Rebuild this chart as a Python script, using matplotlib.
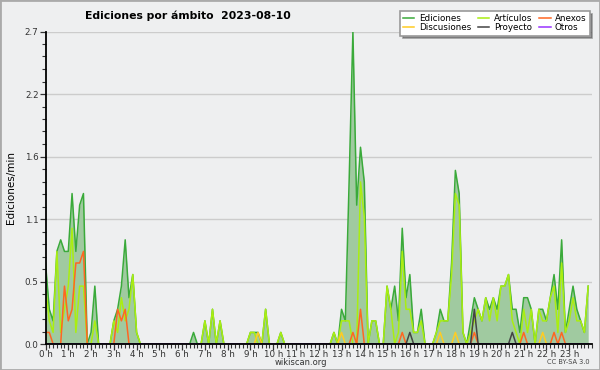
import numpy as np
import matplotlib.pyplot as plt
from matplotlib.ticker import FixedLocator, MultipleLocator
from matplotlib.patches import Rectangle

# edits per minute, 10-minute steps, one row per hour (00:00 .. 23:50)
ediciones = [
    [0.7, 0.3, 0.2, 0.8, 0.9, 0.8],
    [0.8, 1.3, 0.8, 1.2, 1.3, 0.0],
    [0.1, 0.5, 0.0, 0.0, 0.0, 0.0],
    [0.2, 0.3, 0.5, 0.9, 0.4, 0.6],
    [0.1, 0.0, 0.0, 0.0, 0.0, 0.0],
    [0.0, 0.0, 0.0, 0.0, 0.0, 0.0],
    [0.0, 0.0, 0.0, 0.1, 0.0, 0.0],
    [0.2, 0.0, 0.3, 0.0, 0.2, 0.0],
    [0.0, 0.0, 0.0, 0.0, 0.0, 0.0],
    [0.1, 0.1, 0.1, 0.0, 0.3, 0.0],
    [0.0, 0.0, 0.1, 0.0, 0.0, 0.0],
    [0.0, 0.0, 0.0, 0.0, 0.0, 0.0],
    [0.0, 0.0, 0.0, 0.0, 0.1, 0.0],
    [0.3, 0.2, 1.4, 2.7, 1.2, 1.7],
    [1.4, 0.0, 0.2, 0.2, 0.0, 0.0],
    [0.5, 0.3, 0.5, 0.2, 1.0, 0.4],
    [0.6, 0.1, 0.1, 0.3, 0.0, 0.0],
    [0.0, 0.1, 0.3, 0.2, 0.2, 0.7],
    [1.5, 1.3, 0.1, 0.0, 0.2, 0.4],
    [0.3, 0.2, 0.4, 0.3, 0.4, 0.3],
    [0.5, 0.5, 0.6, 0.3, 0.3, 0.1],
    [0.4, 0.4, 0.3, 0.0, 0.3, 0.3],
    [0.2, 0.4, 0.6, 0.3, 0.9, 0.1],
    [0.3, 0.5, 0.3, 0.2, 0.1, 0.5],
]
articulos = [
    [0.5, 0.2, 0.1, 0.8, 0.1, 0.3],
    [0.5, 1.0, 0.1, 0.5, 0.5, 0.0],
    [0.0, 0.2, 0.0, 0.0, 0.0, 0.0],
    [0.2, 0.1, 0.4, 0.2, 0.3, 0.6],
    [0.1, 0.0, 0.0, 0.0, 0.0, 0.0],
    [0.0, 0.0, 0.0, 0.0, 0.0, 0.0],
    [0.0, 0.0, 0.0, 0.0, 0.0, 0.0],
    [0.2, 0.0, 0.3, 0.0, 0.2, 0.0],
    [0.0, 0.0, 0.0, 0.0, 0.0, 0.0],
    [0.1, 0.1, 0.0, 0.0, 0.3, 0.0],
    [0.0, 0.0, 0.1, 0.0, 0.0, 0.0],
    [0.0, 0.0, 0.0, 0.0, 0.0, 0.0],
    [0.0, 0.0, 0.0, 0.0, 0.1, 0.0],
    [0.2, 0.2, 0.2, 0.0, 0.0, 1.4],
    [1.1, 0.0, 0.2, 0.2, 0.0, 0.0],
    [0.5, 0.3, 0.0, 0.1, 0.8, 0.3],
    [0.3, 0.1, 0.1, 0.2, 0.0, 0.0],
    [0.0, 0.1, 0.2, 0.2, 0.2, 0.6],
    [1.3, 1.2, 0.1, 0.0, 0.1, 0.2],
    [0.3, 0.2, 0.4, 0.2, 0.4, 0.2],
    [0.5, 0.5, 0.6, 0.2, 0.1, 0.0],
    [0.3, 0.1, 0.3, 0.0, 0.3, 0.2],
    [0.2, 0.4, 0.5, 0.1, 0.7, 0.1],
    [0.2, 0.4, 0.2, 0.2, 0.1, 0.5],
]
# sparse series: time of day -> edits per minute (zero elsewhere)
anexos = {"00:00": 0.1, "00:10": 0.1, "00:50": 0.5, "01:00": 0.2, "01:10": 0.3,
          "01:20": 0.7, "01:30": 0.7, "01:40": 0.8, "03:10": 0.3, "03:20": 0.2,
          "03:30": 0.3, "13:30": 0.1, "13:50": 0.3, "15:40": 0.1, "18:50": 0.1,
          "21:00": 0.1, "22:20": 0.1, "22:40": 0.1}
discusiones = {"09:20": 0.1, "13:00": 0.1, "17:20": 0.1, "18:00": 0.1, "21:50": 0.1}
proyecto = {"16:00": 0.1, "18:50": 0.3, "20:30": 0.1}
otros = {}

hour_labels = ["%d h" % h for h in range(24)]


def dense(rows):
    return np.array(rows, dtype=float).ravel()


def sparse(d):
    a = np.zeros(144)
    for k, v in d.items():
        h, m = k.split(":")
        a[int(h) * 6 + int(m) // 10] = v
    return a


t = np.arange(144) / 6.0
ed = dense(ediciones)
art = dense(articulos)

bg = "#eeeff0"
fig = plt.figure(figsize=(6, 3.7), dpi=100, facecolor=bg)
ax = fig.add_axes([45.5 / 600, 1 - 344 / 370, 546.5 / 600, 312.5 / 370])
ax.set_facecolor(bg)

ax.fill_between(t, ed, color="#a0caa0", lw=0, zorder=1)
series = [
    ("Ediciones", ed, "#3aaa3a"),
    ("Discusiones", sparse(discusiones), "#ffcc22"),
    ("Artículos", art, "#aaee11"),
    ("Proyecto", sparse(proyecto), "#444444"),
    ("Anexos", sparse(anexos), "#ff6622"),
    ("Otros", sparse(otros), "#9933ff"),
]
zo = {"Ediciones": 2, "Artículos": 3, "Discusiones": 4, "Anexos": 5, "Proyecto": 6, "Otros": 6}
handles = []
for name, y, c in series:
    ln, = ax.plot(t, y, color=c, lw=1.1, zorder=zo[name], label=name)
    handles.append(ln)

ax.set_xlim(0, 24)
ax.set_ylim(0, 2.7)
yt = np.linspace(0, 2.7, 6)
ax.yaxis.set_major_locator(FixedLocator(yt))
ax.yaxis.set_minor_locator(FixedLocator(np.linspace(0, 2.7, 26)))
ax.set_yticklabels(["%.1f" % v for v in yt])
ax.set_xticks(np.arange(24))
ax.set_xticklabels(hour_labels)
ax.xaxis.set_minor_locator(MultipleLocator(1 / 6))
ax.grid(axis="y", color="#cccccc", lw=1, zorder=0)
ax.set_axisbelow(True)

for s in ["top", "right"]:
    ax.spines[s].set_visible(False)
for s in ["left", "bottom"]:
    ax.spines[s].set_linewidth(1.3)
    ax.spines[s].set_zorder(10)
ax.tick_params(which="major", length=4, width=0.9, labelsize=6.3, colors="#333333", pad=1)
ax.tick_params(which="minor", length=3, width=0.8, color="#333333")
ax.tick_params(axis="x", which="major", pad=0)
ax.set_ylabel("Ediciones/min", fontsize=7.5, labelpad=6)

fig.text(85 / 600, 1 - 16 / 370, "Ediciones por ámbito  2023-08-10", fontsize=7.8,
         fontweight="bold", ha="left", va="center")
fig.text(301 / 600, 1 - 362.5 / 370, "wikiscan.org", fontsize=6, ha="center", va="center",
         color="#333333")
fig.text(590 / 600, 1 - 362.5 / 370, "CC BY-SA 3.0", fontsize=4.8, ha="right", va="center",
         color="#444444")

leg = fig.legend(handles=handles, loc="upper right", bbox_to_anchor=(594 / 600, 1 - 7 / 370),
                 ncol=3, fontsize=6.3, handlelength=1.3, handletextpad=0.5, columnspacing=0.8,
                 labelspacing=0.0, borderpad=0.35, fancybox=False, shadow=True,
                 framealpha=1, edgecolor="#999999")
leg.get_frame().set_linewidth(1.2)

fig.patches.append(Rectangle((0, 0), 1, 1, transform=fig.transFigure, fill=False,
                             edgecolor="#aaaaaa", lw=2, zorder=0))

fig.savefig("out.png", dpi=100, facecolor=bg)
